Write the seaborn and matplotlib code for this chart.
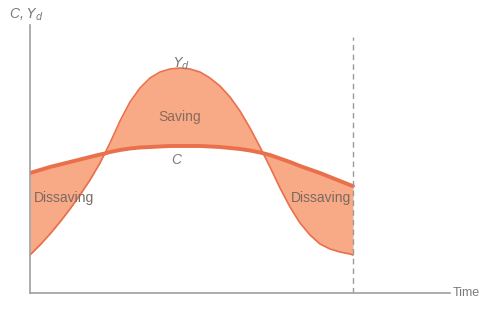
import matplotlib
matplotlib.use("Agg")
import matplotlib.pyplot as plt
import seaborn as sns
import pandas as pd

# life-cycle picture: disposable income Yd vs consumption C over time
time = [0, 10, 20, 30, 40, 50, 60, 70, 75, 80, 90, 100, 110, 120, 130, 140, 150,
        160, 170, 180, 190, 200, 210, 220, 230, 232, 240, 250, 260, 270, 280, 290,
        300, 310, 320, 323]
income = [38, 48, 59, 71, 84, 98, 113, 130, 140, 150, 172, 191, 205, 215, 221, 224, 225,
          224, 221, 215, 207, 196, 182, 165, 146, 142, 126, 105, 86, 70, 58, 49,
          44, 41, 39, 38]
consumption = [120, 123, 126, 128.5, 131, 133.5, 136, 138.5, 139.5, 141, 143, 144.5, 145.5, 146, 146.5, 147, 147,
               147, 147, 146.5, 146, 145, 144, 142.5, 140.5, 140, 138, 134.5, 131, 127, 123.5, 120,
               116, 112, 108, 107]

df = pd.DataFrame({"time": time, "Yd": income, "C": consumption})

fill_col = "#f8a985"
line_col = "#ea6f4b"
text_col = "#7a7a7a"

sns.set_style("white")
plt.rcParams["font.family"] = ["Liberation Sans", "DejaVu Sans"]

fig = plt.figure(figsize=(4.83, 3.28), dpi=100)
ax = fig.add_axes([30 / 483, 35 / 328, 420 / 483, 268 / 328])

ax.fill_between(df["time"], df["Yd"], df["C"], color=fill_col, linewidth=0)
sns.lineplot(data=df, x="time", y="Yd", ax=ax, color=line_col, linewidth=1.2)
sns.lineplot(data=df, x="time", y="C", ax=ax, color=line_col, linewidth=2.8)

ax.vlines(time[-1], 0, 256, colors="#999999", linestyles=(0, (4, 3)), linewidth=1)

ax.set_xlim(0, 420)
ax.set_ylim(0, 268)
ax.set_xticks([])
ax.set_yticks([])
ax.set_xlabel("")
ax.set_ylabel("")
for side in ["top", "right"]:
    ax.spines[side].set_visible(False)
for side in ["left", "bottom"]:
    ax.spines[side].set_color("#a0a0a0")
    ax.spines[side].set_linewidth(1.2)

ax.text(150, 176, "Saving", color="#8a6a5a", fontsize=10, ha="center", va="center")
ax.text(4, 95, "Dissaving", color="#7a6a62", fontsize=10, ha="left", va="center")
ax.text(321, 95, "Dissaving", color="#7a6a62", fontsize=10, ha="right", va="center")
ax.text(146, 133, "C", color=text_col, fontsize=10, style="italic", ha="center", va="center")
ax.text(151, 229, "$Y_d$", color=text_col, fontsize=10, ha="center", va="center",
        math_fontfamily="dejavusans")
fig.text(9 / 483, 1 - 15 / 328, "C, $Y_d$", color=text_col, fontsize=10, style="italic",
         ha="left", va="center")
fig.text(453 / 483, 35 / 328, "Time", color=text_col, fontsize=9, ha="left", va="center")

fig.savefig("out.png", dpi=100)
